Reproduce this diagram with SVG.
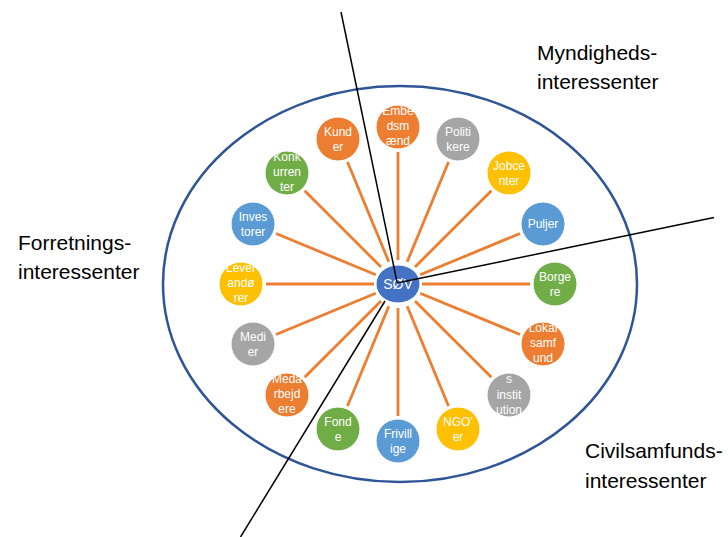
<svg xmlns="http://www.w3.org/2000/svg" width="728" height="537" viewBox="0 0 728 537">
<style>
.bg{fill:#ffffff}
.ring{fill:none;stroke:#2F5597;stroke-width:2.5}
.conn line{stroke:#ED7D31;stroke-width:2.8}
.div line{stroke:#000000;stroke-width:1.5}
.node circle,.node ellipse{stroke:#ffffff;stroke-width:1}
.or{fill:#ED7D31}.gr{fill:#A5A5A5}.ye{fill:#FFC000}.bl{fill:#5B9BD5}.gn{fill:#70AD47}.ct{fill:#4472C4}
.t{font-family:"Liberation Sans",Arial,sans-serif;font-size:12px;fill:#ffffff;text-anchor:middle}
.tc{font-family:"Liberation Sans",Arial,sans-serif;font-size:14px;fill:#ffffff;text-anchor:middle}
.lab{font-family:"Liberation Sans",Arial,sans-serif;font-size:21px;fill:#000000}
</style>
<rect class="bg" width="728" height="537"/>
<ellipse id="boundary" class="ring" cx="400" cy="284" rx="237" ry="198"/>
<g id="connectors" class="conn">
<line x1="422" y1="284" x2="530" y2="284"/>
<line x1="420.2" y1="274.8" x2="520" y2="233.5"/>
<line x1="415" y1="267" x2="491.3" y2="190.7"/>
<line x1="407.2" y1="261.8" x2="448.5" y2="162"/>
<line x1="398" y1="260" x2="398" y2="152"/>
<line x1="388.8" y1="261.8" x2="347.5" y2="162"/>
<line x1="381" y1="267" x2="304.7" y2="190.7"/>
<line x1="375.8" y1="274.8" x2="276" y2="233.5"/>
<line x1="374" y1="284" x2="266" y2="284"/>
<line x1="375.8" y1="293.2" x2="276" y2="334.5"/>
<line x1="381" y1="301" x2="304.7" y2="377.3"/>
<line x1="388.8" y1="306.2" x2="347.5" y2="406"/>
<line x1="398" y1="308" x2="398" y2="416"/>
<line x1="407.2" y1="306.2" x2="448.5" y2="406"/>
<line x1="415" y1="301" x2="491.3" y2="377.3"/>
<line x1="420.2" y1="293.2" x2="520" y2="334.5"/>
</g>
<g id="borgere" class="node" transform="translate(555,284)"><circle class="gn" r="22"/><text class="t"><tspan x="0" y="-3">Borge</tspan><tspan x="0" y="12">re</tspan></text></g>
<g id="puljer" class="node" transform="translate(543,224)"><circle class="bl" r="22"/><text class="t" x="0" y="4">Puljer</text></g>
<g id="jobcenter" class="node" transform="translate(509,173)"><circle class="ye" r="22"/><text class="t"><tspan x="0" y="-3">Jobce</tspan><tspan x="0" y="12">nter</tspan></text></g>
<g id="politikere" class="node" transform="translate(458,139)"><circle class="gr" r="22"/><text class="t"><tspan x="0" y="-3">Politi</tspan><tspan x="0" y="12">kere</tspan></text></g>
<g id="embedsmaend" class="node" transform="translate(398,127)"><circle class="or" r="22"/><text class="t"><tspan x="0" y="-12">Embe</tspan><tspan x="0" y="3">dsm</tspan><tspan x="0" y="18">ænd</tspan></text></g>
<g id="kunder" class="node" transform="translate(338,139)"><circle class="or" r="22"/><text class="t"><tspan x="0" y="-3">Kund</tspan><tspan x="0" y="12">er</tspan></text></g>
<g id="konkurrenter" class="node" transform="translate(287,173)"><circle class="gn" r="22"/><text class="t"><tspan x="0" y="-12">Konk</tspan><tspan x="0" y="3">urren</tspan><tspan x="0" y="18">ter</tspan></text></g>
<g id="investorer" class="node" transform="translate(253,224)"><circle class="bl" r="22"/><text class="t"><tspan x="0" y="-3">Inves</tspan><tspan x="0" y="12">torer</tspan></text></g>
<g id="leverandoerer" class="node" transform="translate(241,284)"><circle class="ye" r="22"/><text class="t"><tspan x="0" y="-12">Lever</tspan><tspan x="0" y="3">andø</tspan><tspan x="0" y="18">rer</tspan></text></g>
<g id="medier" class="node" transform="translate(253,344)"><circle class="gr" r="22"/><text class="t"><tspan x="0" y="-3">Medi</tspan><tspan x="0" y="12">er</tspan></text></g>
<g id="medarbejdere" class="node" transform="translate(287,395)"><circle class="or" r="22"/><text class="t"><tspan x="0" y="-12">Meda</tspan><tspan x="0" y="3">rbejd</tspan><tspan x="0" y="18">ere</tspan></text></g>
<g id="fonde" class="node" transform="translate(338,429)"><circle class="gn" r="22"/><text class="t"><tspan x="0" y="-3">Fond</tspan><tspan x="0" y="12">e</tspan></text></g>
<g id="frivillige" class="node" transform="translate(398,441)"><circle class="bl" r="22"/><text class="t"><tspan x="0" y="-3">Frivill</tspan><tspan x="0" y="12">ige</tspan></text></g>
<g id="ngoer" class="node" transform="translate(458,429)"><circle class="ye" r="22"/><text class="t"><tspan x="0" y="-3">NGO’</tspan><tspan x="0" y="12">er</tspan></text></g>
<g id="institution" class="node" transform="translate(509,395)"><circle class="gr" r="22"/><text class="t"><tspan x="0" y="-12">s</tspan><tspan x="0" y="4">instit</tspan><tspan x="0" y="19">ution</tspan></text></g>
<g id="lokalsamfund" class="node" transform="translate(543,344)"><circle class="or" r="22"/><text class="t"><tspan x="0" y="-12">Lokal</tspan><tspan x="0" y="3">samf</tspan><tspan x="0" y="18">und</tspan></text></g>
<g id="soev" class="node" transform="translate(398,284)"><ellipse class="ct" rx="22" ry="19"/><text class="tc" x="0" y="5">SØV</text></g>
<g id="dividers" class="div">
<line x1="341" y1="12" x2="397" y2="282"/>
<line x1="397" y1="283" x2="714" y2="217.5"/>
<line x1="385" y1="301" x2="240.5" y2="537"/>
</g>
<g id="labels">
<text class="lab"><tspan x="537" y="60">Myndigheds-</tspan><tspan x="537" y="89">interessenter</tspan></text>
<text class="lab"><tspan x="18" y="250">Forretnings-</tspan><tspan x="18" y="279">interessenter</tspan></text>
<text class="lab"><tspan x="585" y="458">Civilsamfunds-</tspan><tspan x="585" y="488">interessenter</tspan></text>
</g>
</svg>
